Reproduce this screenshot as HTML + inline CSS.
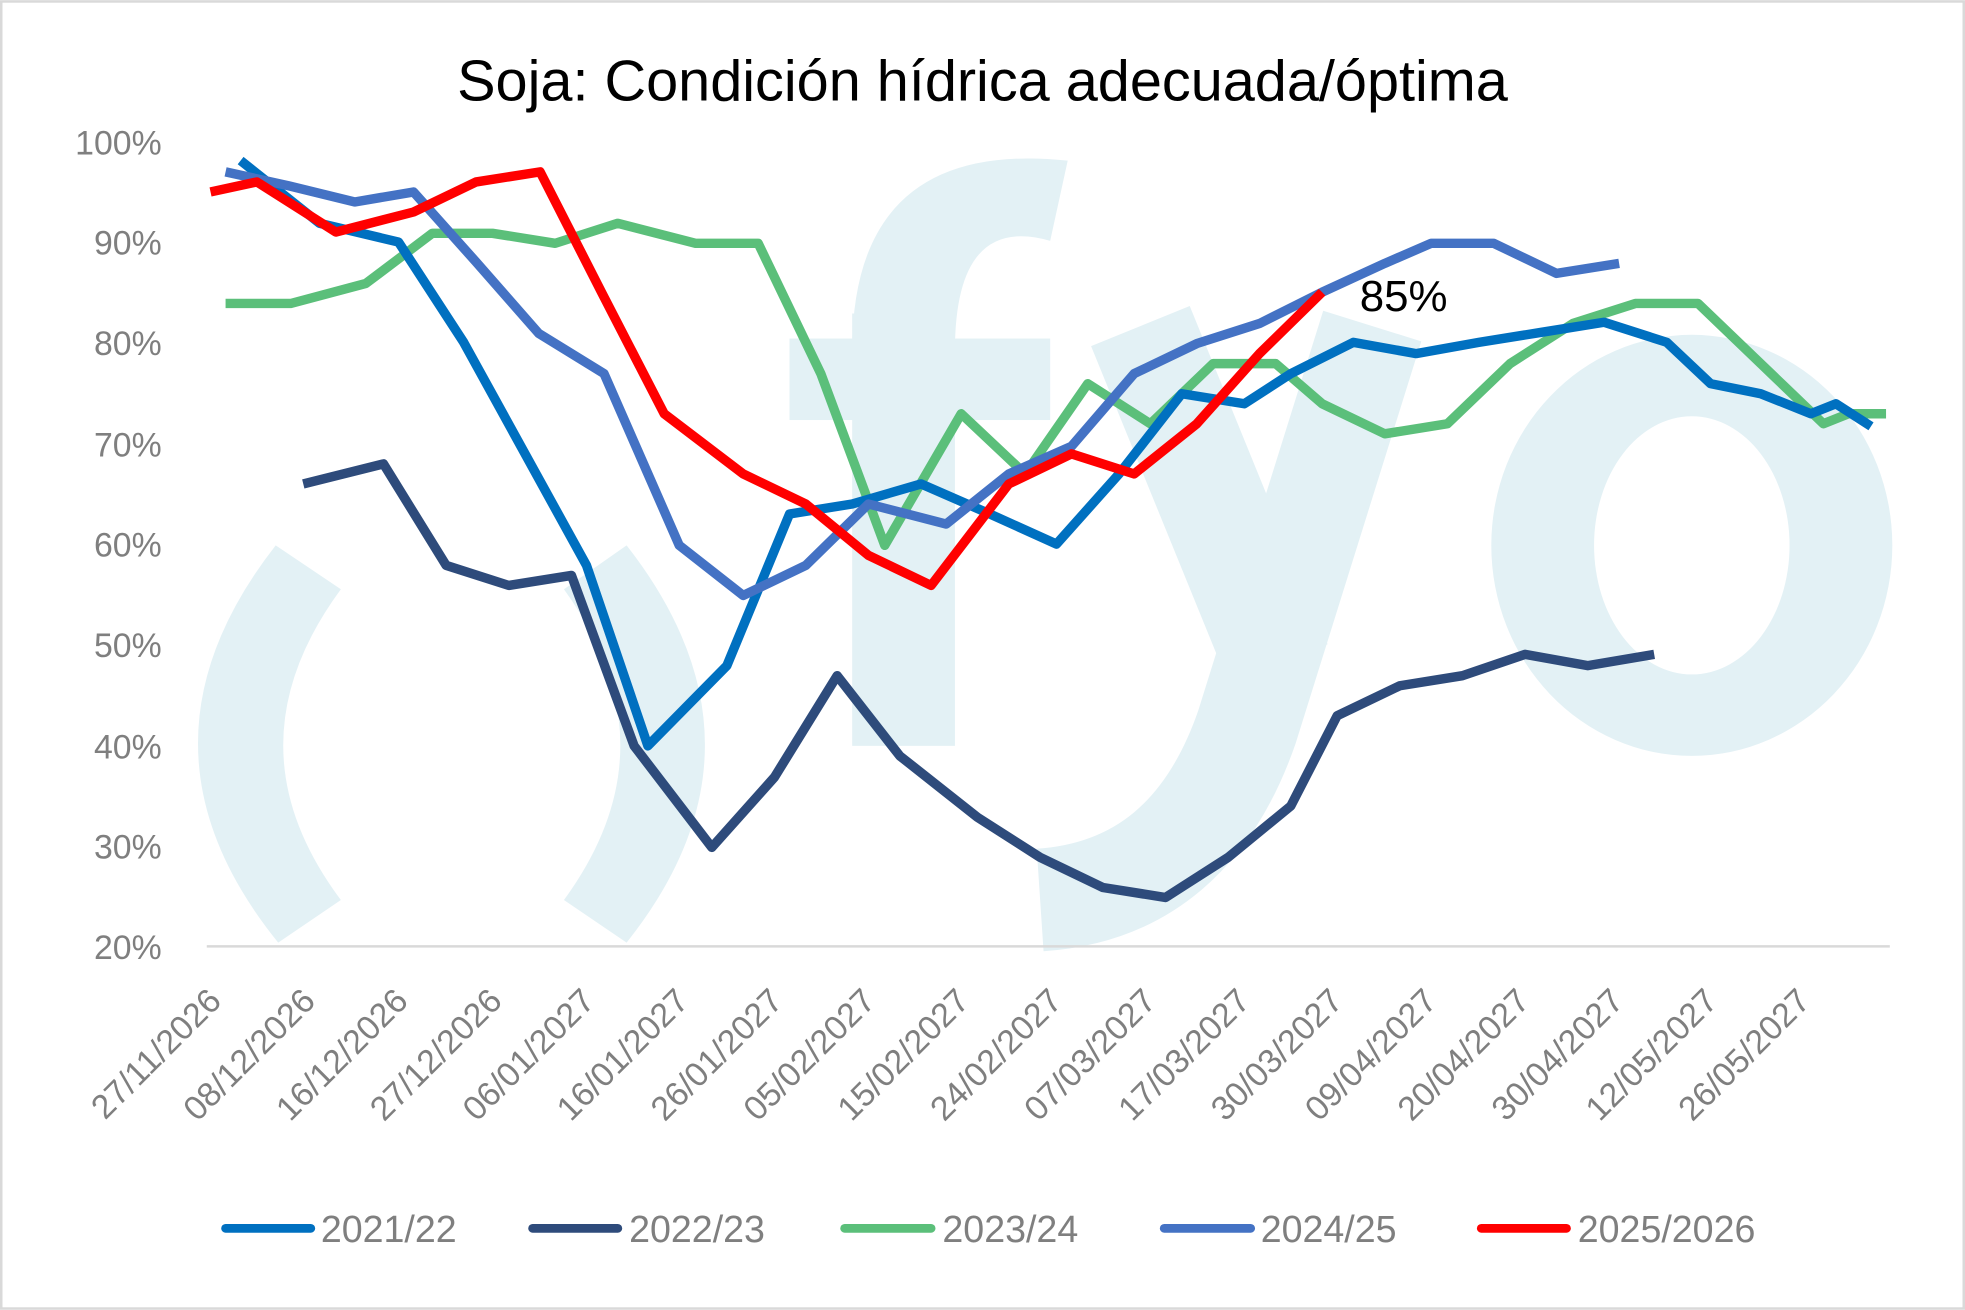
<!DOCTYPE html>
<html><head><meta charset="utf-8"><style>
html,body{margin:0;padding:0;background:#fff;}
svg{display:block;}
text{font-family:"Liberation Sans","DejaVu Sans",sans-serif;}
</style></head><body>
<svg width="1965" height="1310" viewBox="0 0 1568 1045" xmlns="http://www.w3.org/2000/svg">
<rect x="0" y="0" width="1568" height="1045" fill="#fff"/>
<rect x="1" y="1" width="1566" height="1043" fill="none" stroke="#d9d9d9" stroke-width="2"/>
<g fill="#e3f1f5" stroke="none">
<path d="M220,435 Q95,595 222,752 L272,718 Q180,595 272,470 Z"/>
<path d="M500,435 Q625,595 500,752 L450,718 Q540,595 450,470 Z"/>
<rect x="680" y="250" width="82" height="345"/>
<rect x="630" y="270" width="208" height="65"/>
<path d="M680,280 Q680,110 852,128 L838,192 Q762,170 762,280 Z"/>
<path fill-rule="evenodd" d="M1190,435 a160,168 0 1,0 320,0 a160,168 0 1,0 -320,0 Z M1272,435 a78,103 0 1,0 156,0 a78,103 0 1,0 -156,0 Z"/>
</g>
<g fill="none" stroke="#e3f1f5" stroke-linecap="butt">
<path d="M910,260 L1020,530" stroke-width="85"/>
<path d="M1095,260 L995,580 Q950,710 830,718" stroke-width="82"/>
</g>
<text x="784" y="80" text-anchor="middle" font-size="46" fill="#000">Soja: Condición hídrica adecuada/óptima</text>
<line x1="165" y1="755" x2="1508" y2="755" stroke="#d9d9d9" stroke-width="2"/>
<g font-size="27" fill="#7f7f7f" text-anchor="end">
<text x="129" y="123">100%</text>
<text x="129" y="203">90%</text>
<text x="129" y="283">80%</text>
<text x="129" y="364">70%</text>
<text x="129" y="444">60%</text>
<text x="129" y="524">50%</text>
<text x="129" y="605">40%</text>
<text x="129" y="685">30%</text>
<text x="129" y="765">20%</text>
</g>
<g font-size="27" fill="#7f7f7f" text-anchor="end">
<text transform="translate(178,800) rotate(-45)">27/11/2026</text>
<text transform="translate(253,800) rotate(-45)">08/12/2026</text>
<text transform="translate(327,800) rotate(-45)">16/12/2026</text>
<text transform="translate(402,800) rotate(-45)">27/12/2026</text>
<text transform="translate(476,800) rotate(-45)">06/01/2027</text>
<text transform="translate(551,800) rotate(-45)">16/01/2027</text>
<text transform="translate(626,800) rotate(-45)">26/01/2027</text>
<text transform="translate(700,800) rotate(-45)">05/02/2027</text>
<text transform="translate(775,800) rotate(-45)">15/02/2027</text>
<text transform="translate(849,800) rotate(-45)">24/02/2027</text>
<text transform="translate(924,800) rotate(-45)">07/03/2027</text>
<text transform="translate(999,800) rotate(-45)">17/03/2027</text>
<text transform="translate(1073,800) rotate(-45)">30/03/2027</text>
<text transform="translate(1148,800) rotate(-45)">09/04/2027</text>
<text transform="translate(1222,800) rotate(-45)">20/04/2027</text>
<text transform="translate(1297,800) rotate(-45)">30/04/2027</text>
<text transform="translate(1372,800) rotate(-45)">12/05/2027</text>
<text transform="translate(1446,800) rotate(-45)">26/05/2027</text>
</g>
<g fill="none" stroke-width="7.5" stroke-linejoin="round" stroke-linecap="butt">
<polyline stroke="#2E4B7B" points="242,386 306,370 356,451 406,467 456,459 506,595 568,676 618,620 668,539 718,603 780,652 830,684 880,708 930,716 980,684 1030,643 1067,571 1117,547 1167,539 1217,522 1267,531 1320,522"/>
<polyline stroke="#5BBF7A" points="180,242 232,242 292,226 345,186 393,186 443,194 493,178 555,194 605,194 655,298 706,435 767,330 818,378 868,306 918,338 968,290 1018,290 1055,322 1105,346 1155,338 1205,290 1255,258 1305,242 1355,242 1405,290 1455,338 1475,330 1505,330"/>
<polyline stroke="#0070C0" points="192,128 255,178 318,193 370,273 468,451 517,595 580,531 630,410 680,402 735,386 790,410 843,434 893,378 943,314 993,322 1030,298 1080,273 1130,282 1180,273 1230,265 1280,257 1330,273 1365,306 1405,314 1445,330 1465,322 1493,340"/>
<polyline stroke="#4472C4" points="180,137 230,148 283,161 330,153 380,209 430,266 482,298 542,435 593,475 643,451 693,402 755,418 805,378 855,356 905,298 955,274 1005,258 1055,233 1105,210 1142,194 1192,194 1242,218 1292,210"/>
<polyline stroke="#FF0000" points="168,153 205,145 268,185 330,169 380,145 431,137 480,233 530,330 593,378 643,402 693,443 743,467 805,386 855,362 905,378 955,338 1005,282 1055,233"/>
</g>
<text x="1085" y="248" font-size="35" fill="#000">85%</text>
<g stroke-width="7" stroke-linecap="round">
<line x1="180" y1="980" x2="248" y2="980" stroke="#0070C0"/>
<line x1="425" y1="980" x2="493" y2="980" stroke="#2E4B7B"/>
<line x1="674" y1="980" x2="743" y2="980" stroke="#5BBF7A"/>
<line x1="929" y1="980" x2="998" y2="980" stroke="#4472C4"/>
<line x1="1182" y1="980" x2="1250" y2="980" stroke="#FF0000"/>
</g>
<g font-size="30" fill="#7f7f7f">
<text x="256" y="991">2021/22</text>
<text x="502" y="991">2022/23</text>
<text x="752" y="991">2023/24</text>
<text x="1006" y="991">2024/25</text>
<text x="1259" y="991">2025/2026</text>
</g>
</svg>
</body></html>
